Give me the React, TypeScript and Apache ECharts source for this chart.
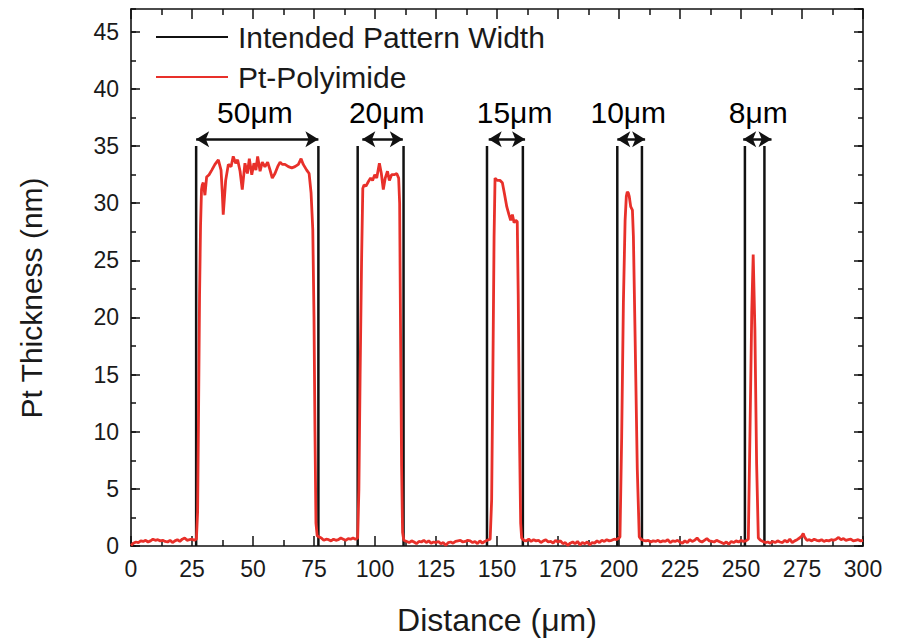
import React, { useEffect, useRef } from "react";
import * as echarts from "echarts";

const FONT = "'Liberation Sans', Arial, Helvetica, sans-serif";

// x (µm) tick range
const xMin = 0;
const xMax = 300;
const xInterval = 25;
// y (nm) tick range
const yMin = 0;
const yMax = 47;
const yInterval = 5;

// Intended pattern edges (µm) and height (nm)
const patternEdges = [26.7, 76.8, 92.9, 111.7, 145.9, 160.6, 199.3, 209.4, 251.6, 259.6];
const patternTop = 35;

// Double arrows: [x start, x end, y]
const arrowSpans: [number, number, number][] = [
  [26.7, 76.8, 35.6],
  [94.8, 111.4, 35.6],
  [146.6, 161.5, 35.6],
  [199.3, 210.7, 35.6],
  [250.9, 262.5, 35.6],
];

// Width labels: [x, y, text]
const widthLabels: [number, number, string][] = [
  [50.8, 37.9, "50μm"],
  [104.8, 37.9, "20μm"],
  [157.2, 37.9, "15μm"],
  [203.8, 37.9, "10μm"],
  [257.1, 37.9, "8μm"],
];

// Measured Pt-Polyimide thickness profile [distance µm, thickness nm]
const ptPolyimideProfile: [number, number][] = [
  [0, 0.05], [1, 0.25], [2, 0.35], [3, 0.3], [4, 0.45], [5, 0.4], [6, 0.5], [7, 0.35], [8, 0.45], [9, 0.6],
  [10, 0.5], [11, 0.55], [12, 0.45], [13, 0.5], [14, 0.4], [15, 0.35], [16, 0.5], [17, 0.3], [18, 0.45], [19, 0.55],
  [20, 0.4], [21, 0.6], [22, 0.7], [23, 0.5], [24, 0.55], [25, 0.6], [26, 0.5], [26.8, 0.6],
  [27.3, 3], [27.7, 12], [28.1, 22], [28.5, 28], [28.9, 31.2], [29.2, 31.6], [29.6, 31.8], [30.3, 30.7], [31.0, 32.3],
  [32.0, 32.5], [33.1, 32.9], [34.4, 33.4], [35.8, 33.8], [36.9, 32.9], [37.4, 31], [37.8, 29.0], [38.3, 30.5],
  [38.8, 32.0], [39.9, 33.4], [41.0, 33.2], [41.9, 34.1], [42.9, 33.5], [43.7, 33.8], [44.7, 32.8], [45.6, 31.2],
  [46.7, 33.5], [47.7, 32.6], [48.5, 33.9], [49.5, 32.5], [50.4, 33.5], [51.2, 32.9], [51.9, 34.1], [52.9, 32.8],
  [53.8, 33.6], [54.9, 33.2], [56.0, 33.6], [57.0, 32.9], [57.9, 32.2], [59.0, 32.6], [60.1, 33.2], [61.1, 33.6],
  [62.0, 33.4], [63.1, 33.4], [64.5, 33.2], [65.9, 33.1], [67.2, 33.2], [68.6, 33.4], [69.7, 33.9], [70.6, 33.4],
  [72.0, 32.9], [73.0, 32.6], [73.8, 30.9], [74.5, 27.7], [75.0, 20], [75.4, 10], [75.8, 2], [76.3, 0.9],
  [77, 0.8], [78, 0.7], [79, 0.5], [80, 0.6], [81, 0.55], [82, 0.45], [83, 0.6], [84, 0.5], [85, 0.55], [86, 0.7],
  [87, 0.6], [88, 0.5], [89, 0.65], [90, 0.6], [91, 0.7], [92, 0.6], [92.9, 0.7],
  [93.4, 5], [93.9, 15], [94.5, 25], [95.0, 31.3], [95.5, 31.6], [96.3, 31.5], [97.3, 31.9], [98.2, 32.2], [99.0, 32.0],
  [99.9, 32.5], [100.7, 32.2], [101.8, 33.5], [102.6, 32.6], [103.4, 31.2], [104.2, 32.2], [105.1, 32.8], [105.9, 32.0],
  [106.8, 32.5], [107.9, 32.5], [108.9, 32.6], [109.7, 32.2], [110.1, 30], [110.5, 18], [110.9, 7], [111.3, 1.2], [111.8, 0.5],
  [113, 0.4], [114, 0.3], [115, 0.45], [116, 0.35], [117, 0.2], [118, 0.4], [119, 0.35], [120, 0.5], [121, 0.3], [122, 0.45],
  [123, 0.25], [124, 0.35], [125, 0.3], [126, 0.4], [127, 0.2], [128, 0.3], [129, 0.05], [130, 0.3], [131, 0.35], [132, 0.25],
  [133, 0.4], [134, 0.45], [135, 0.5], [136, 0.35], [137, 0.4], [138, 0.5], [139, 0.45], [140, 0.3], [141, 0.4], [142, 0.2],
  [143, 0.45], [144, 0.25], [145, 0.4], [146, 0.5], [147.2, 0.6],
  [147.8, 4], [148.3, 15], [148.8, 27], [149.2, 32.2], [150.1, 32.0], [151.2, 32.0], [152.2, 31.8], [153.0, 30.9],
  [154.0, 29.7], [154.9, 29.0], [155.6, 28.5], [156.3, 29.0], [157.0, 28.3], [157.7, 28.5], [158.3, 28.4], [158.7, 22],
  [159.2, 10], [159.7, 2], [160.1, 0.7],
  [161, 0.5], [162, 0.45], [163, 0.6], [164, 0.4], [165, 0.55], [166, 0.45], [167, 0.5], [168, 0.3], [169, 0.45], [170, 0.55],
  [171, 0.35], [172, 0.4], [173, 0.25], [174, 0.5], [175, 0.35], [176, 0.45], [177, 0.2], [178, 0.3], [179, 0.05], [180, 0.25],
  [181, 0.35], [182, 0.2], [183, 0.4], [184, 0.1], [185, 0.3], [186, 0.2], [187, 0.35], [188, 0.1], [189, 0.3], [190, 0.25],
  [191, 0.45], [192, 0.3], [193, 0.5], [194, 0.4], [195, 0.55], [196, 0.45], [197, 0.5], [198, 0.6], [199, 0.55], [200, 0.7],
  [200.4, 0.8], [201.1, 9.6], [201.8, 21.3], [202.5, 28.5], [203.0, 30.6], [203.4, 31.0], [203.8, 30.9], [204.2, 30.6],
  [204.8, 29.7], [205.5, 29.4], [205.9, 27.1], [206.6, 18.3], [207.5, 6.7], [208.3, 0.8],
  [209, 0.6], [210, 0.5], [211, 0.45], [212, 0.5], [213, 0.35], [214, 0.45], [215, 0.4], [216, 0.5], [217, 0.35], [218, 0.45],
  [219, 0.4], [220, 0.55], [221, 0.3], [222, 0.45], [223, 0.4], [224, 0.5], [225, 0.35], [226, 0.25], [227, 0.45], [228, 0.3],
  [229, 0.55], [230, 0.4], [231, 0.5], [232, 0.7], [233, 0.45], [234, 0.35], [235, 0.5], [236, 0.65], [237, 0.45], [238, 0.4],
  [239, 0.35], [240, 0.5], [241, 0.4], [242, 0.3], [243, 0.2], [244, 0.35], [245, 0.15], [246, 0.4], [247, 0.3], [248, 0.45],
  [249, 0.35], [250, 0.5], [251, 0.4], [252, 0.45], [253.0, 0.6],
  [253.7, 10.2], [254.4, 20.4], [255.0, 25.5], [255.7, 18.9], [256.4, 7.2], [257.1, 0.7],
  [258, 0.5], [259, 0.4], [260, 0.3], [261, 0.35], [262, 0.25], [263, 0.4], [264, 0.3], [265, 0.45], [266, 0.35], [267, 0.3],
  [268, 0.5], [269, 0.35], [270, 0.6], [271, 0.3], [272, 0.45], [273, 0.55], [274, 0.7], [275, 0.9], [275.5, 1.1], [276, 0.8],
  [277, 0.5], [278, 0.55], [279, 0.45], [280, 0.6], [281, 0.5], [282, 0.45], [283, 0.55], [284, 0.4], [285, 0.5], [286, 0.45],
  [287, 0.55], [288, 0.5], [289, 0.6], [290, 0.75], [291, 0.55], [292, 0.65], [293, 0.5], [294, 0.55], [295, 0.6], [296, 0.45],
  [297, 0.5], [298, 0.55], [299, 0.45], [300, 0.5],
];

const BLACK = "#111111";
const RED = "#e8302a";
const TEXT = "#1a1a1a";

export default function App() {
  const ref = useRef<HTMLDivElement>(null);

  useEffect(() => {
    if (!ref.current) return;
    const chart = echarts.init(ref.current, undefined, { renderer: "svg" });

    const mkLine = () => ({ show: true, onZero: false, lineStyle: { color: BLACK, width: 1.6 } });
    const majorTick = (len: number) => ({
      show: true,
      inside: true,
      length: len,
      lineStyle: { color: BLACK, width: 1.5 },
    });

    const patternSeries = patternEdges.map((x) => ({
      name: "Intended Pattern Width",
      type: "line" as const,
      data: [
        [x, yMin],
        [x, patternTop],
      ],
      symbol: "none",
      showSymbol: false,
      lineStyle: { color: BLACK, width: 2.5 },
      itemStyle: { color: BLACK },
      silent: true,
      z: 2,
    }));

    chart.setOption({
      animation: false,
      backgroundColor: "#ffffff",
      textStyle: { fontFamily: FONT },
      grid: { left: 131, right: 34, top: 9, bottom: 97, containLabel: false },
      legend: {
        data: [
          { name: "Intended Pattern Width", itemStyle: { opacity: 0 } },
          { name: "Pt-Polyimide", itemStyle: { opacity: 0 } },
        ],
        orient: "vertical",
        left: 155,
        top: 22,
        padding: 0,
        itemWidth: 72,
        itemHeight: 14,
        itemGap: 10,
        selectedMode: false,
        itemStyle: { opacity: 0 },
        textStyle: {
          fontFamily: FONT,
          fontSize: 30,
          color: TEXT,
          lineHeight: 30,
          padding: [0, 0, 0, 5],
        },
      },
      xAxis: [
        {
          type: "value",
          position: "bottom",
          min: xMin,
          max: xMax,
          interval: xInterval,
          name: "Distance (μm)",
          nameLocation: "middle",
          nameGap: 58,
          nameTextStyle: { fontFamily: FONT, fontSize: 32, color: TEXT },
          axisLine: mkLine(),
          axisTick: majorTick(10),
          minorTick: { show: true, splitNumber: 2, length: 6, lineStyle: { color: BLACK, width: 1.5 } },
          splitLine: { show: false },
          minorSplitLine: { show: false },
          axisLabel: { fontFamily: FONT, fontSize: 23, color: TEXT, margin: 11 },
        },
        {
          type: "value",
          position: "top",
          min: xMin,
          max: xMax,
          interval: xInterval,
          axisLine: mkLine(),
          axisTick: majorTick(10),
          minorTick: { show: true, splitNumber: 2, length: 6, lineStyle: { color: BLACK, width: 1.5 } },
          splitLine: { show: false },
          axisLabel: { show: false },
        },
      ],
      yAxis: [
        {
          type: "value",
          position: "left",
          min: yMin,
          max: yMax,
          interval: yInterval,
          axisLine: mkLine(),
          axisTick: majorTick(9),
          splitLine: { show: false },
          axisLabel: { fontFamily: FONT, fontSize: 23, color: TEXT, margin: 12, showMaxLabel: false },
        },
        {
          type: "value",
          position: "right",
          min: yMin,
          max: yMax,
          interval: yInterval,
          axisLine: mkLine(),
          axisTick: majorTick(9),
          splitLine: { show: false },
          axisLabel: { show: false },
        },
        {
          type: "value",
          position: "left",
          offset: 0,
          min: yMin,
          max: yMax,
          interval: yInterval / 2,
          axisLine: { show: false, onZero: false },
          axisTick: majorTick(5),
          splitLine: { show: false },
          axisLabel: { show: false },
        },
        {
          type: "value",
          position: "right",
          offset: 0,
          min: yMin,
          max: yMax,
          interval: yInterval / 2,
          axisLine: { show: false, onZero: false },
          axisTick: majorTick(5),
          splitLine: { show: false },
          axisLabel: { show: false },
        },
      ],
      graphic: [
        {
          type: "text",
          x: 31,
          y: 298,
          rotation: Math.PI / 2,
          style: {
            text: "Pt Thickness (nm)",
            font: `30px ${FONT}`,
            fill: TEXT,
            textAlign: "center",
            textVerticalAlign: "middle",
          },
        },
      ],
      series: [
        ...patternSeries,
        {
          name: "Pt-Polyimide",
          type: "line",
          data: ptPolyimideProfile,
          symbol: "none",
          showSymbol: false,
          lineStyle: { color: RED, width: 2.8 },
          itemStyle: { color: RED },
          silent: true,
          z: 3,
        },
        {
          name: "widthLabels",
          type: "scatter",
          symbolSize: 0,
          silent: true,
          itemStyle: { color: BLACK, opacity: 1 },
          data: widthLabels.map(([x, y, t]) => ({
            value: [x, y],
            label: { formatter: t },
          })),
          label: {
            show: true,
            position: [0, 0],
            align: "center",
            verticalAlign: "middle",
            fontFamily: FONT,
            fontSize: 30,
            color: "#000000",
            opacity: 1,
            textBorderWidth: 0,
          },
          markLine: {
            silent: true,
            symbol: ["arrow", "arrow"],
            symbolSize: [12, 13],
            label: { show: false },
            lineStyle: { color: BLACK, width: 2.5, type: "solid" },
            itemStyle: { color: BLACK },
            emphasis: { disabled: true },
            data: arrowSpans.map(([x1, x2, y]) => [{ coord: [x1, y] }, { coord: [x2, y] }]),
          },
          z: 4,
        },
      ],
    });

    return () => chart.dispose();
  }, []);

  return (
    <div
      ref={ref}
      style={{ position: "fixed", left: 0, top: 0, width: 897, height: 643, background: "#fff" }}
    />
  );
}
